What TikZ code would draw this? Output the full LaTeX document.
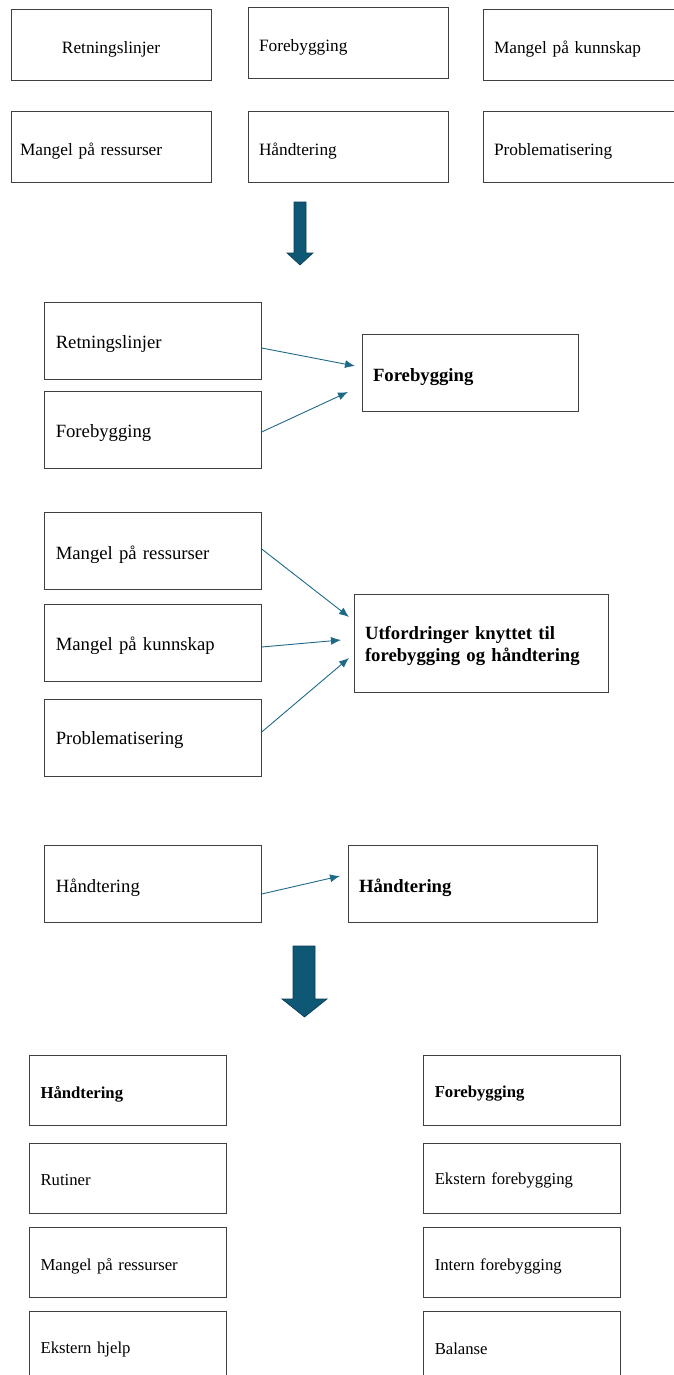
\documentclass[tikz,border=0pt]{standalone}
\usepackage{fontspec}
\setmainfont{Liberation Serif}
\usetikzlibrary{arrows.meta}
\definecolor{bigarrow}{RGB}{14,88,118}
\definecolor{bigedge}{RGB}{10,60,85}
\definecolor{connc}{RGB}{30,105,135}
\newcommand\lowtext[2][4pt]{\raisebox{-#1}[\height][\depth]{#2}}
\begin{document}
\begin{tikzpicture}[x=1pt,y=-1pt,
  box/.style={draw=black!75, line width=0.9pt, rectangle, inner xsep=11pt, inner ysep=0pt, align=left},
  topbox/.style={box, text width=178pt, minimum height=71pt, font=\fontsize{17.3}{21}\selectfont},
  midbox/.style={box, minimum height=77pt, font=\fontsize{18.7}{22}\selectfont},
  midbold/.style={box, font=\fontsize{18.7}{22}\selectfont\bfseries},
  lowbox/.style={box, text width=174.5pt, minimum height=70pt, font=\fontsize{16.7}{20}\selectfont},
  lowbold/.style={lowbox, font=\fontsize{16.7}{20}\selectfont\bfseries},
  connector/.style={draw=connc, line width=0.9pt, -{Latex[length=10pt,width=8pt]}},
  bigarr/.style={fill=bigarrow, draw=bigedge, line width=0.6pt}]
\useasboundingbox (0,0) rectangle (673,1375);

% top rows
\node[topbox, align=center] (t1) at (111,44.5) {\lowtext[4.5pt]{Retningslinjer}};
\node[topbox] (t2) at (348,42.5) {\lowtext[4.5pt]{Forebygging}};
\node[topbox] (t3) at (583,44.5) {\lowtext[4.5pt]{Mangel på kunnskap}};
\node[topbox, inner xsep=9pt, text width=182pt] (t4) at (111,146.5) {\lowtext[4.5pt]{Mangel på ressurser}};
\node[topbox] (t5) at (348,146.5) {\lowtext[4.5pt]{Håndtering}};
\node[topbox] (t6) at (583,146.5) {\lowtext[4.5pt]{Problematisering}};

% big arrow 1
\draw[bigarr] (294,202) -- (306,202) -- (306,253) -- (313,253) -- (300,265) -- (287,253) -- (294,253) -- cycle;

% section 2
\node[midbox, text width=194.5pt] (s2a) at (153,340.5) {\lowtext[3.5pt]{Retningslinjer}};
\node[midbox, text width=194.5pt] (s2b) at (153,429.5) {\lowtext{Forebygging}};
\node[midbold, text width=194pt, minimum height=77pt] (s2c) at (470,372.5) {\lowtext[5pt]{Forebygging}};
\coordinate (e1) at (355,366);
\coordinate (e2) at (348,392);
\draw[connector] ([yshift=-7.5pt]s2a.east) -- (e1);
\draw[connector] ([yshift=-2.5pt]s2b.east) -- (e2);

% section 3
\node[midbox, text width=194.5pt] (s3a) at (153,551) {\lowtext{Mangel på ressurser}};
\node[midbox, text width=194.5pt] (s3b) at (153,642.5) {\lowtext[3pt]{Mangel på kunnskap}};
\node[midbox, text width=194.5pt] (s3c) at (153,737.5) {\lowtext[3pt]{Problematisering}};
\node[midbold, text width=232pt, minimum height=98pt] (s3d) at (481,643)
  {\lowtext[3pt]{\begin{tabular}{@{}l@{}}Utfordringer knyttet til\\forebygging og håndtering\end{tabular}}};
\coordinate (e3) at (349,617);
\coordinate (e4) at (341,640);
\coordinate (e5) at (349,658);
\draw[connector] ([yshift=2pt]s3a.east) -- (e3);
\draw[connector] ([yshift=-4.5pt]s3b.east) -- (e4);
\draw[connector] ([yshift=5.5pt]s3c.east) -- (e5);

% section 4
\node[midbox, text width=194.5pt] (s4a) at (153,883.5) {\lowtext{Håndtering}};
\node[midbold, text width=227pt, minimum height=77pt] (s4b) at (472.5,883.5) {\lowtext{Håndtering}};
\coordinate (e6) at (340,876);
\draw[connector] ([yshift=-10.5pt]s4a.east) -- (e6);

% big arrow 2
\draw[bigarr] (293,946) -- (315,946) -- (315,999) -- (327,999) -- (304.5,1017) -- (282,999) -- (293,999) -- cycle;

% bottom columns
\node[lowbold] (l1) at (127.8,1090) {\lowtext{Håndtering}};
\node[lowbox] (l2) at (127.8,1178) {\lowtext[2.5pt]{Rutiner}};
\node[lowbox] (l3) at (127.8,1262) {\lowtext{Mangel på ressurser}};
\node[lowbox] (l4) at (127.8,1346) {\lowtext[3pt]{Ekstern hjelp}};
\node[lowbold] (r1) at (522,1090) {\lowtext{Forebygging}};
\node[lowbox] (r2) at (522,1178) {\lowtext[2.5pt]{Ekstern forebygging}};
\node[lowbox] (r3) at (522,1262) {\lowtext{Intern forebygging}};
\node[lowbox] (r4) at (522,1346) {\lowtext[3pt]{Balanse}};
\end{tikzpicture}
\end{document}
